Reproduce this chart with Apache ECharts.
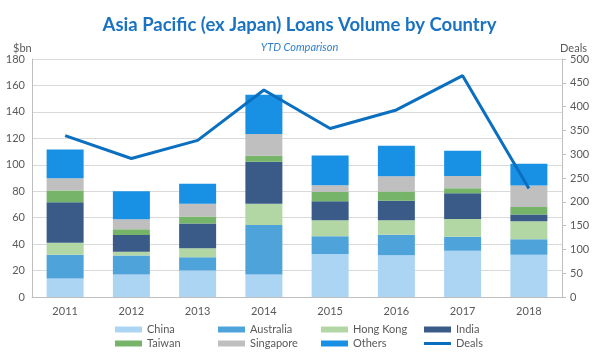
<!DOCTYPE html>
<html><head><meta charset="utf-8">
<script src="https://cdn.jsdelivr.net/npm/echarts@6/dist/echarts.min.js"></script>
<style>html,body{margin:0;padding:0;background:#fff}#c{width:599px;height:359px}</style>
</head><body><div id="c"></div>
<script>
const years = ['2011','2012','2013','2014','2015','2016','2017','2018'];
const china = [14, 17, 20, 17, 32.5, 31.5, 35, 32];
const australia = [18, 14.3, 10, 37.5, 13.5, 15.5, 10.5, 11.7];
const hongKong = [9, 3, 6.8, 16, 12, 11, 13.5, 13.5];
const india = [30.7, 12.5, 18.7, 31.7, 14.5, 14.8, 19.5, 5.2];
const taiwan = [8.8, 4.5, 5.3, 4.6, 7, 7, 3.7, 5.7];
const singapore = [9.4, 7.5, 9.7, 16.5, 5, 11.5, 9.3, 16.3];
const others = [21.7, 21.2, 15.1, 29.7, 22.5, 23, 19.2, 16.3];
const deals = [339, 291, 329, 435, 354, 393, 465, 228];

const font = 'Lato';
const gray = '#595959';
const barSeries = [
  ['China', china, '#acd5f4'],
  ['Australia', australia, '#4ea3db'],
  ['Hong Kong', hongKong, '#b3d6a5'],
  ['India', india, '#3a5b88'],
  ['Taiwan', taiwan, '#76b46a'],
  ['Singapore', singapore, '#bfbfbf'],
  ['Others', others, '#1890e3']
].map(([name, data, color]) => ({
  name, type: 'bar', stack: 'v', data, barWidth: 37,
  itemStyle: {color}, emphasis: {disabled: true}
}));

const legendBase = {
  orient: 'vertical', top: 319, itemWidth: 27, itemHeight: 6, itemGap: 3,
  textStyle: {fontFamily: font, fontSize: 11, color: gray}, selectedMode: false
};
const lineIcon = 'path://M0,0H27V3H0Z';

const chart = echarts.init(document.getElementById('c'), null, {renderer: 'canvas'});
chart.setOption({
  animation: false,
  title: [
    {text: 'Asia Pacific (ex Japan) Loans Volume by Country', left: 'center', top: 11,
     textStyle: {fontFamily: font, fontSize: 18.5, fontWeight: 'bold', color: '#1a73c2'}},
    {text: 'YTD Comparison', left: 'center', top: 37,
     textStyle: {fontFamily: font, fontSize: 11, fontStyle: 'italic', fontWeight: 'normal', color: '#2e7fcb'}},
    {text: '$bn', left: 8, top: 38, textStyle: {fontFamily: font, fontSize: 11, fontWeight: 'normal', color: gray}},
    {text: 'Deals', right: 7, top: 38, textStyle: {fontFamily: font, fontSize: 11, fontWeight: 'normal', color: gray}}
  ],
  legend: [
    Object.assign({}, legendBase, {left: 110, data: [{name:'China', icon:'rect'}, {name:'Taiwan', icon:'rect'}]}),
    Object.assign({}, legendBase, {left: 213, data: [{name:'Australia', icon:'rect'}, {name:'Singapore', icon:'rect'}]}),
    Object.assign({}, legendBase, {left: 316, data: [{name:'Hong Kong', icon:'rect'}, {name:'Others', icon:'rect'}]}),
    Object.assign({}, legendBase, {left: 419, data: [{name:'India', icon:'rect'}, {name:'Deals', icon: lineIcon}]})
  ],
  grid: {left: 32, right: 37, top: 59, bottom: 62},
  xAxis: {
    type: 'category', data: years,
    axisLine: {lineStyle: {color: '#bfbfbf'}},
    axisTick: {show: false},
    axisLabel: {fontFamily: font, fontSize: 11, color: gray, margin: 9}
  },
  yAxis: [
    {type: 'value', min: 0, max: 180, interval: 20,
     axisLine: {show: true, lineStyle: {color: '#bfbfbf'}},
     axisTick: {show: false},
     splitLine: {lineStyle: {color: '#d9d9d9'}},
     axisLabel: {fontFamily: font, fontSize: 11, color: gray, margin: 7}},
    {type: 'value', min: 0, max: 500, interval: 50, position: 'right',
     axisLine: {show: true, lineStyle: {color: '#bfbfbf'}},
     axisTick: {show: true, length: 4, lineStyle: {color: '#bfbfbf'}},
     splitLine: {show: false},
     axisLabel: {fontFamily: font, fontSize: 11, color: gray, margin: 8}}
  ],
  series: barSeries.concat([{
    name: 'Deals', type: 'line', yAxisIndex: 1, data: deals,
    showSymbol: false, symbol: 'none',
    lineStyle: {color: '#0b6fc0', width: 3}, itemStyle: {color: '#0b6fc0'},
    emphasis: {disabled: true}
  }])
});
</script></body></html>
